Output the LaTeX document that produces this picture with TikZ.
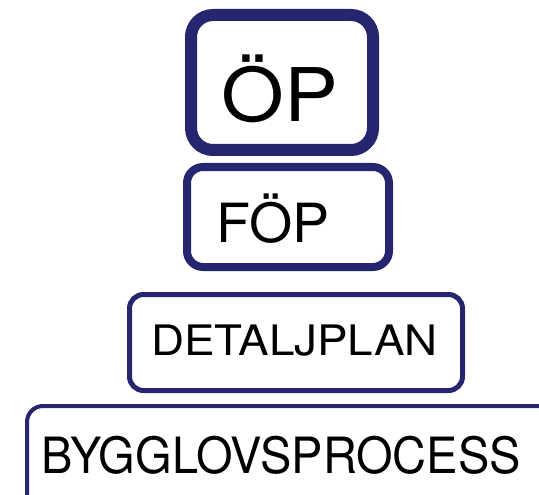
\documentclass[tikz,border=0pt]{standalone}
\usepackage{fontspec}
\setmainfont{TeX Gyre Heros}
\definecolor{planblue}{RGB}{38,38,112}
\tikzset{
  planbox/.style={draw=planblue, rounded corners=#1},
  planlabel/.style={anchor=base, inner sep=0pt, text=black}
}

\begin{document}
\begin{tikzpicture}[x=1pt, y=-1pt]

    % picture frame, the lowest box runs out of it
    \useasboundingbox (0,0) rectangle (539,495);
    \clip (0,0) rectangle (539,495);

    % the four planning levels
    \draw[planbox=22pt, line width=12pt] (191,15) rectangle (373,150);
    \draw[planbox=16pt, line width=8pt] (187,167) rectangle (389,267);
    \draw[planbox=14pt, line width=5pt] (129.5,294.5) rectangle (462.5,390.5);
    \draw[planbox=16pt, line width=4pt] (27,406) rectangle (570,530);

    % labels
    \node[planlabel, font=\fontsize{74}{80}\selectfont] (op) at (280,122) {\scalebox{1.09}[1]{ÖP}};
    \node[planlabel, font=\fontsize{54}{60}\selectfont] (fop) at (273,242) {\scalebox{1.03}[1]{FÖP}};
    \node[planlabel, font=\fontsize{42}{48}\selectfont] (dp) at (294.5,355) {\scalebox{1.09}[1]{DETALJPLAN}};
    \node[planlabel, font=\fontsize{50}{56}\selectfont] (bygg) at (281,473) {\scalebox{0.94}[1]{BYGGLOVSPROCESS}};

\end{tikzpicture}
\end{document}
